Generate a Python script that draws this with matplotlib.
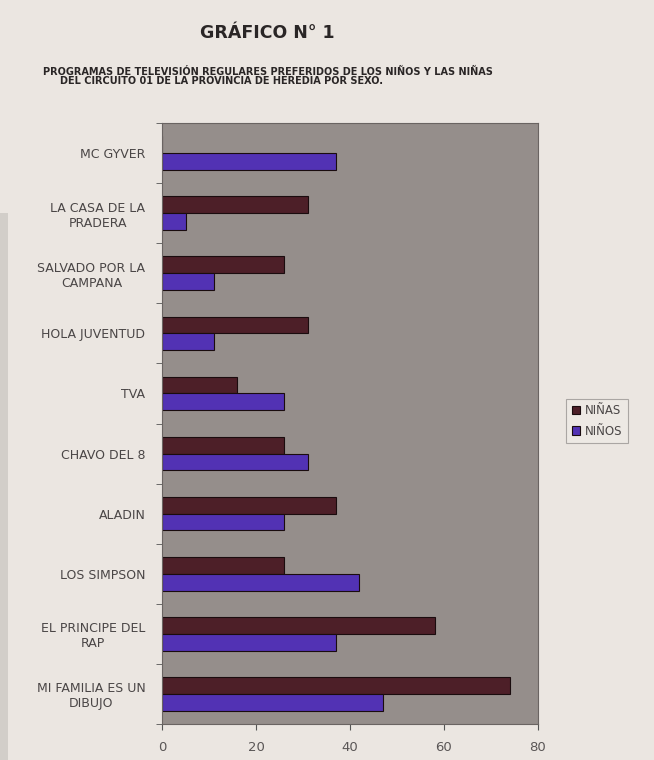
import matplotlib
matplotlib.use("Agg")
import matplotlib.pyplot as plt
import numpy as np
from matplotlib.patches import Rectangle

# categories listed bottom -> top
programas = [
    "MI FAMILIA ES UN\nDIBUJO",
    "EL PRINCIPE DEL\nRAP",
    "LOS SIMPSON",
    "ALADIN",
    "CHAVO DEL 8",
    "TVA",
    "HOLA JUVENTUD",
    "SALVADO POR LA\nCAMPANA",
    "LA CASA DE LA\nPRADERA",
    "MC GYVER",
]
ninas = [74, 58, 26, 37, 26, 16, 31, 26, 31, 0]
ninos = [47, 37, 42, 26, 31, 26, 11, 11, 5, 37]
x_ticks = [0, 20, 40, 60, 80]

BG = "#ebe6e1"
PLOT_BG = "#958e8b"
C_NINAS = "#4d1f28"
C_NINOS = "#5232b4"
TXT = "#4a4646"

fig = plt.figure(figsize=(6.54, 7.60), dpi=100, facecolor=BG)
ax = fig.add_axes([162 / 654, 36 / 760, 376 / 654, 601 / 760])
ax.set_facecolor(PLOT_BG)

# scan shadow on the left edge
fig.patches.append(Rectangle((0, 0), 8 / 654, 0.72, transform=fig.transFigure,
                             facecolor="#d2cec9", edgecolor="none", zorder=0))

y = np.arange(len(programas))
h = 0.28
ax.barh(y + h / 2, ninas, height=h, color=C_NINAS, edgecolor="#1a0c0e", linewidth=0.8, label="NIÑAS")
ax.barh(y - h / 2, ninos, height=h, color=C_NINOS, edgecolor="#1a0c0e", linewidth=0.8, label="NIÑOS")

ax.set_xlim(0, 80)
ax.set_ylim(-0.5, len(programas) - 0.5)
ax.set_xticks(x_ticks)
ax.set_xticklabels([str(v) for v in x_ticks], color="#5a5656", fontsize=9.5)
ax.tick_params(axis="x", direction="out", length=4, color="#555", pad=8)

ax.set_yticks(y)
ax.set_yticklabels(programas, color=TXT, fontsize=9, multialignment="center")
ax.tick_params(axis="y", which="major", length=0, pad=12)
ax.set_yticks(np.arange(-0.5, len(programas), 1.0), minor=True)
ax.tick_params(axis="y", which="minor", direction="out", length=4, color="#555")

for s in ax.spines.values():
    s.set_color("#6a6462")
    s.set_linewidth(0.8)

fig.text(267 / 654, 1 - 33 / 760, "GRÁFICO N° 1", ha="center", va="center",
         fontsize=12.5, fontweight="bold", color="#2a2626")
fig.text(43 / 654, 1 - 72 / 760,
         "PROGRAMAS DE TELEVISIÓN REGULARES PREFERIDOS DE LOS NIÑOS Y LAS NIÑAS",
         ha="left", va="center", fontsize=7, fontweight="bold", color="#2a2626")
fig.text(60 / 654, 1 - 80.5 / 760,
         "DEL CIRCUITO 01 DE LA PROVINCIA DE HEREDIA POR SEXO.",
         ha="left", va="center", fontsize=7, fontweight="bold", color="#2a2626")

leg = fig.legend(loc="center left", bbox_to_anchor=(560 / 654, 1 - 421 / 760),
                 fontsize=8.5, frameon=True, fancybox=False, handlelength=0.7,
                 handleheight=0.7, handletextpad=0.4, borderpad=0.5, labelspacing=0.6)
leg.get_frame().set_facecolor("#eeeae6")
leg.get_frame().set_edgecolor("#9a9694")
leg.get_frame().set_linewidth(0.8)
for t in leg.get_texts():
    t.set_color(TXT)

fig.savefig("out.png", dpi=100, facecolor=BG)
